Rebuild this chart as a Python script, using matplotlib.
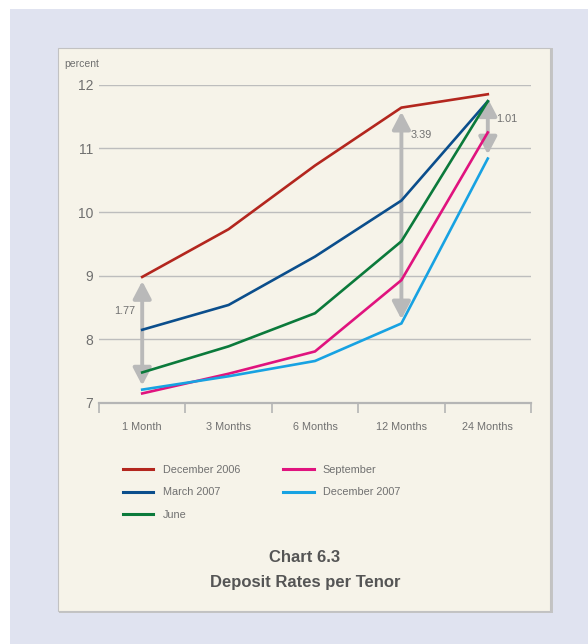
import matplotlib
matplotlib.use("Agg")
import matplotlib.pyplot as plt
from matplotlib.patches import Rectangle

# Deposit rates (percent) by tenor
tenors = ["1 Month", "3 Months", "6 Months", "12 Months", "24 Months"]
dec_2006 = [8.98, 9.73, 10.73, 11.64, 11.85]
mar_2007 = [8.15, 8.54, 9.30, 10.18, 11.74]
jun_2007 = [7.48, 7.89, 8.41, 9.54, 11.74]
sep_2007 = [7.15, 7.46, 7.81, 8.93, 11.25]
dec_2007 = [7.21, 7.42, 7.66, 8.25, 10.84]

series_labels = ["December 2006", "March 2007", "June", "September", "December 2007"]
series_colors = ["#b3261e", "#0b4e8c", "#0b7a3b", "#e0137e", "#17a2e2"]

# Tenors where the spread between Dec 2006 and Dec 2007 is marked
spread_idx = [0, 3, 4]
y_ticks = [7, 8, 9, 10, 11, 12]

W, H = 588, 644
FONT = ["Liberation Sans", "DejaVu Sans"]
TXT = "#707070"
GRID = "#bdbdbd"
ARROW = "#b9b9b9"

fig = plt.figure(figsize=(W / 100, H / 100), dpi=100)
fig.patch.set_facecolor("white")


def px(x0, y0, x1, y1):
    return [x0 / W, 1 - y1 / H, (x1 - x0) / W, (y1 - y0) / H]


# page background and cream panel
fig.add_artist(Rectangle((10 / W, 0), 1, 1 - 9 / H, transform=fig.transFigure,
                         facecolor="#e0e3f0", edgecolor="none", zorder=-3))
fig.add_artist(Rectangle((59 / W, 1 - 613 / H), 494 / W, 565 / H, transform=fig.transFigure,
                         facecolor="#c4c4c4", edgecolor="none", zorder=-2))
fig.add_artist(Rectangle((58 / W, 1 - 611 / H), 492 / W, 563 / H, transform=fig.transFigure,
                         facecolor="#f6f3e9", edgecolor="#c2c2c2", linewidth=0.8, zorder=-1))

ax = fig.add_axes(px(99, 84.7, 531, 403))
ax.set_facecolor("none")
x = list(range(len(tenors)))

all_series = [dec_2006, mar_2007, jun_2007, sep_2007, dec_2007]
for vals, lab, col in zip(all_series, series_labels, series_colors):
    ax.plot(x, vals, color=col, lw=1.9, label=lab, solid_joinstyle="miter", zorder=3)

ax.set_xlim(-0.5, len(tenors) - 0.5)
ax.set_ylim(7, 12)
ax.set_yticks(y_ticks)
ax.set_yticklabels([str(v) for v in y_ticks], fontsize=10, color=TXT, family=FONT)
ax.tick_params(axis="y", length=0, pad=4)
for v in y_ticks[1:]:
    ax.axhline(v, color=GRID, lw=1.0, zorder=1)

# category boundaries as ticks, labels centred between
ax.set_xticks([i - 0.5 for i in range(len(tenors) + 1)])
ax.set_xticklabels([])
ax.set_xticks(x, minor=True)
ax.set_xticklabels(tenors, minor=True, fontsize=7.8, color=TXT, family=FONT)
ax.tick_params(axis="x", which="major", direction="out", length=7, width=1.2, color="#b5b5b5")
ax.tick_params(axis="x", which="minor", length=0, pad=14)

for s in ["left", "right", "top"]:
    ax.spines[s].set_visible(False)
ax.spines["bottom"].set_color("#b5b5b5")
ax.spines["bottom"].set_linewidth(1.6)

ax.text(-0.5 - 35 / 86.4, 12 + 21 / 63.66, "percent", fontsize=7.5, color=TXT,
        family=FONT, ha="left", va="center")

# spread arrows between Dec 2006 and Dec 2007
label_pos = {0: (-0.2, 8.45), 3: (3.23, 11.21), 4: (4.22, 11.46)}
for i in spread_idx:
    hi, lo = dec_2006[i], dec_2007[i]
    ax.annotate("", xy=(i, hi), xytext=(i, lo),
                arrowprops=dict(arrowstyle="<|-|>,head_length=1.05,head_width=0.55",
                                mutation_scale=10, color=ARROW, lw=2.8,
                                shrinkA=3, shrinkB=3), zorder=2)
    lx, ly = label_pos[i]
    ax.text(lx, ly, f"{hi - lo:.2f}", fontsize=7.8, color=TXT, family=FONT,
            ha="center", va="center")

leg = fig.legend(loc="upper left", bbox_to_anchor=(123 / W, 1 - 465 / H), ncol=2,
                 frameon=False, prop={"family": FONT, "size": 7.8},
                 handlelength=2.8, handletextpad=0.85, columnspacing=4.0,
                 labelspacing=1.15, borderpad=0, borderaxespad=0)
for t in leg.get_texts():
    t.set_color(TXT)
for h in leg.legend_handles:
    h.set_linewidth(2.2)

fig.text(305 / W, 1 - 558 / H, "Chart 6.3", fontsize=12, fontweight="bold",
         color="#555555", family=FONT, ha="center", va="center")
fig.text(305 / W, 1 - 582 / H, "Deposit Rates per Tenor", fontsize=12, fontweight="bold",
         color="#555555", family=FONT, ha="center", va="center")

fig.savefig("out.png", dpi=100, facecolor=fig.get_facecolor())
